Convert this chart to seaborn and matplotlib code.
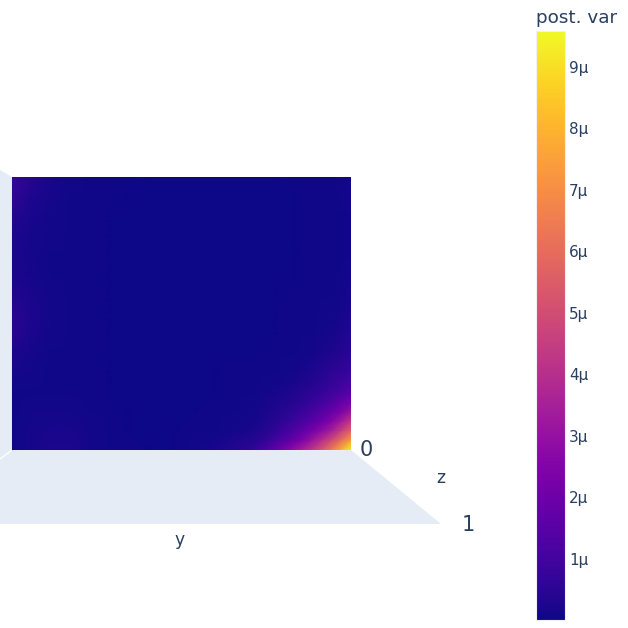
"""
plot.py

Posterior variance surface seen from the side, with the plasma colour bar.
Values are in micro units and were read off the picture by eye.
"""

import matplotlib

matplotlib.use("Agg")
import matplotlib.pyplot as plt
import numpy as np
import seaborn as sns

SIZE = 628
TEXT_COLOR = "#2a3f5f"
FLOOR_COLOR = "#e5ecf6"

VAR_MIN = 0.0
VAR_MAX = 9.585
CBAR_TICKS = [1, 2, 3, 4, 5, 6, 7, 8, 9]
CBAR_LABELS = ["1µ", "2µ", "3µ", "4µ", "5µ", "6µ", "7µ", "8µ", "9µ"]
CBAR_TITLE = "post. var"

# whole surface, top row first, about 20 px between nodes
surface_rows = [
    [0.75, 0.38, 0.16, 0.08, 0.05, 0.04, 0.04, 0.03, 0.03, 0.03, 0.03, 0.03, 0.03, 0.03, 0.04, 0.05, 0.07, 0.10],
    [0.60, 0.26, 0.12, 0.07, 0.05, 0.04, 0.03, 0.03, 0.03, 0.03, 0.03, 0.03, 0.03, 0.03, 0.03, 0.04, 0.06, 0.08],
    [0.36, 0.18, 0.09, 0.06, 0.04, 0.03, 0.03, 0.03, 0.03, 0.03, 0.03, 0.03, 0.03, 0.03, 0.03, 0.04, 0.05, 0.07],
    [0.24, 0.14, 0.08, 0.05, 0.04, 0.03, 0.03, 0.03, 0.03, 0.03, 0.03, 0.03, 0.03, 0.03, 0.03, 0.04, 0.05, 0.07],
    [0.20, 0.12, 0.07, 0.05, 0.04, 0.03, 0.03, 0.03, 0.03, 0.03, 0.03, 0.03, 0.03, 0.03, 0.03, 0.04, 0.05, 0.07],
    [0.22, 0.13, 0.07, 0.05, 0.04, 0.03, 0.03, 0.03, 0.03, 0.03, 0.03, 0.03, 0.03, 0.03, 0.03, 0.04, 0.05, 0.08],
    [0.30, 0.16, 0.08, 0.05, 0.04, 0.03, 0.03, 0.03, 0.03, 0.03, 0.03, 0.03, 0.03, 0.03, 0.04, 0.05, 0.07, 0.13],
    [0.50, 0.22, 0.10, 0.06, 0.04, 0.03, 0.03, 0.03, 0.03, 0.03, 0.03, 0.03, 0.03, 0.03, 0.04, 0.06, 0.10, 0.20],
    [0.45, 0.20, 0.09, 0.06, 0.04, 0.03, 0.03, 0.03, 0.03, 0.03, 0.03, 0.03, 0.03, 0.03, 0.05, 0.07, 0.14, 0.30],
    [0.22, 0.13, 0.07, 0.05, 0.04, 0.03, 0.03, 0.03, 0.03, 0.03, 0.03, 0.03, 0.03, 0.04, 0.06, 0.10, 0.25, 0.45],
    [0.12, 0.09, 0.06, 0.05, 0.04, 0.03, 0.03, 0.03, 0.03, 0.03, 0.03, 0.04, 0.05, 0.05, 0.10, 0.25, 0.50, 0.75],
    [0.07, 0.07, 0.07, 0.06, 0.05, 0.03, 0.03, 0.03, 0.03, 0.03, 0.03, 0.04, 0.06, 0.09, 0.20, 0.40, 0.80, 1.40],
    [0.05, 0.08, 0.11, 0.10, 0.06, 0.04, 0.03, 0.03, 0.03, 0.03, 0.04, 0.06, 0.10, 0.20, 0.40, 0.80, 1.50, 2.80],
    [0.05, 0.12, 0.18, 0.16, 0.08, 0.05, 0.03, 0.03, 0.03, 0.04, 0.05, 0.09, 0.18, 0.40, 0.80, 1.50, 3.00, 5.20],
    [0.04, 0.14, 0.26, 0.22, 0.10, 0.05, 0.04, 0.03, 0.03, 0.08, 0.16, 0.32, 0.60, 1.50, 2.70, 4.20, 6.40, 9.50],
]

# finer read of the bright corner, bottom right, about 10 px between nodes
corner_rows = [
    [0.05, 0.07, 0.10, 0.14, 0.20, 0.28, 0.38, 0.50, 0.68, 0.88, 1.10],
    [0.06, 0.09, 0.13, 0.20, 0.28, 0.40, 0.55, 0.72, 0.95, 1.25, 1.60],
    [0.08, 0.12, 0.19, 0.28, 0.40, 0.56, 0.75, 1.00, 1.35, 1.80, 2.30],
    [0.10, 0.16, 0.26, 0.40, 0.56, 0.78, 1.05, 1.40, 1.85, 2.45, 3.20],
    [0.14, 0.22, 0.36, 0.56, 0.80, 1.10, 1.50, 1.95, 2.55, 3.40, 4.40],
    [0.20, 0.32, 0.52, 0.80, 1.15, 1.60, 2.15, 2.80, 3.50, 4.60, 5.80],
    [0.32, 0.50, 0.85, 1.25, 1.75, 2.35, 3.05, 3.90, 4.90, 6.10, 7.50],
    [0.60, 1.00, 1.50, 2.10, 2.70, 3.40, 4.20, 5.20, 6.40, 7.80, 9.50],
]


def px_axes(fig, left, top, right, bottom):
    """Add axes from pixel edges counted from the top left of the figure."""
    return fig.add_axes([left / SIZE, 1 - bottom / SIZE,
                         (right - left) / SIZE, (bottom - top) / SIZE])


def draw_surface(ax, rows, cbar_ax=None):
    """Smooth heatmap: gouraud nodes fill the axes edge to edge."""
    values = np.array(rows)
    sns.heatmap(
        values, ax=ax, cmap="plasma", vmin=VAR_MIN, vmax=VAR_MAX,
        shading="gouraud", xticklabels=False, yticklabels=False,
        cbar=cbar_ax is not None, cbar_ax=cbar_ax,
    )
    ax.set_xlim(0, values.shape[1] - 1)
    ax.set_ylim(values.shape[0] - 1, 0)
    ax.set_zorder(2)


sns.set_style("white")
plt.rcParams["font.family"] = ["DejaVu Sans"]

fig = plt.figure(figsize=(SIZE / 100, SIZE / 100), dpi=100, facecolor="white")

# scene backdrop in pixel coordinates
scene = fig.add_axes([0, 0, 1, 1])
scene.set_xlim(0, SIZE)
scene.set_ylim(SIZE, 0)
scene.axis("off")
scene.fill([0, 351, 441, 0], [450, 450, 524, 524], color=FLOOR_COLOR, lw=0)
scene.fill([0, 12, 12, 0], [170, 177, 450, 459], color=FLOOR_COLOR, lw=0)
scene.plot([0, 12], [459, 450], color="white", lw=1)
scene.plot([12, 12], [177, 450], color="#c9d2e6", lw=1)
scene.text(366, 450, "0", color=TEXT_COLOR, fontsize=15, ha="center", va="center")
scene.text(468, 525, "1", color=TEXT_COLOR, fontsize=15, ha="center", va="center")
scene.text(441, 478, "z", color=TEXT_COLOR, fontsize=12.3, ha="center", va="center")
scene.text(180, 540, "y", color=TEXT_COLOR, fontsize=12.3, ha="center", va="center")
scene.text(577, 18, CBAR_TITLE, color=TEXT_COLOR, fontsize=13.2, ha="center", va="center")

main_ax = px_axes(fig, 12, 177, 351, 450)
cbar_ax = px_axes(fig, 536, 31, 565, 620)
draw_surface(main_ax, surface_rows, cbar_ax=cbar_ax)

corner_ax = px_axes(fig, 251, 385, 351, 450)
draw_surface(corner_ax, corner_rows)
corner_ax.set_zorder(3)

cbar = main_ax.collections[0].colorbar
cbar.set_ticks(CBAR_TICKS, labels=CBAR_LABELS)
cbar.ax.tick_params(length=0, pad=3, labelsize=11, labelcolor=TEXT_COLOR)
cbar.outline.set_edgecolor("#f0f0f5")
cbar.outline.set_linewidth(0.8)

fig.savefig("out.png", dpi=100)
plt.close(fig)
